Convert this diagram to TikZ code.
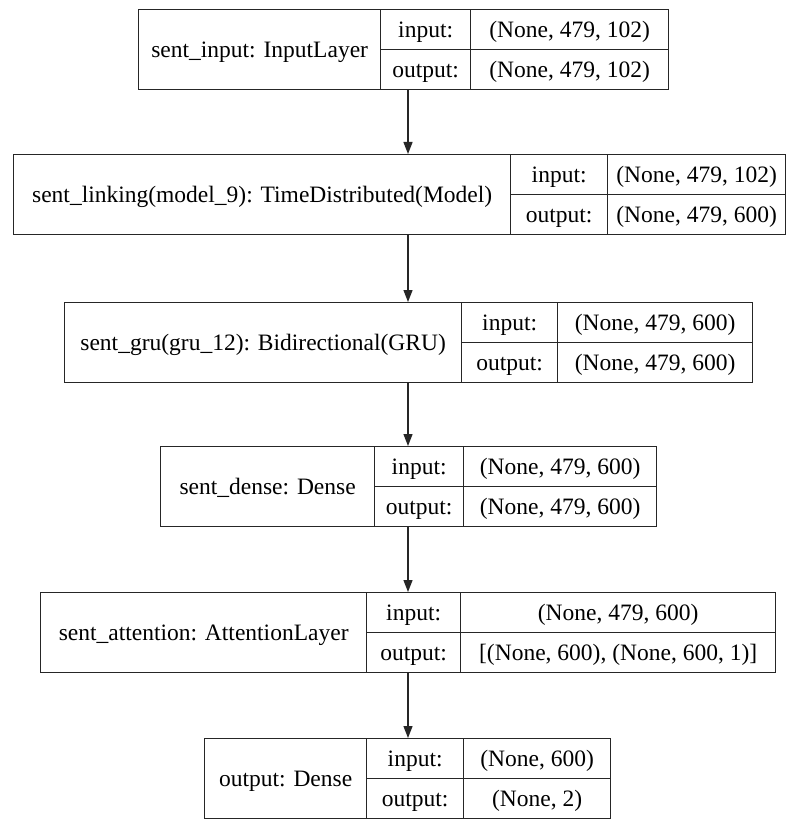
\documentclass[tikz,border=0pt]{standalone}
\usepackage{fontspec}
\setmainfont{Liberation Serif}
\newfontfamily\tms{Liberation Serif}
\usetikzlibrary{arrows.meta}
\newcommand\fs{\tms\fontsize{23.5}{27}\selectfont}
\tikzset{
  cell/.style={draw=black!85, line width=1.3pt, inner sep=0pt, anchor=north west, font=\fs, text height=17pt, text depth=2pt},
  arr/.style={draw=black!85, line width=1.3pt, -{Triangle[length=12pt,width=9pt]}}
}
\newcommand\layerbox[9]{%
  \pgfmathsetmacro\wa{#3-#2}%
  \pgfmathsetmacro\wb{#4-#3}%
  \pgfmathsetmacro\wc{#5-#4}%
  \node[cell, minimum width=\wa pt, minimum height=80pt] (L#1) at (#2,#6) {#7};
  \node[cell, minimum width=\wb pt, minimum height=40pt] (I#1) at (#3,#6) {input:};
  \node[cell, minimum width=\wb pt, minimum height=40pt] (O#1) at (#3,#6+40) {output:};
  \node[cell, minimum width=\wc pt, minimum height=40pt] (IV#1) at (#4,#6) {#8};
  \node[cell, minimum width=\wc pt, minimum height=40pt] (OV#1) at (#4,#6+40) {#9};
}
\begin{document}
\begin{tikzpicture}[x=1pt,y=-1pt]
\fill[white] (0,0) rectangle (795,821);
\useasboundingbox (0,0) rectangle (795,821);
\layerbox{1}{138}{380}{470}{668}{9}{sent\_input: InputLayer}{(None, 479, 102)}{(None, 479, 102)}
\layerbox{2}{13}{510}{607}{785}{154}{sent\_linking(model\_9): TimeDistributed(Model)}{(None, 479, 102)}{(None, 479, 600)}
\layerbox{3}{64}{461}{557}{752}{302}{sent\_gru(gru\_12): Bidirectional(GRU)}{(None, 479, 600)}{(None, 479, 600)}
\layerbox{4}{160}{374}{463}{656}{446}{sent\_dense: Dense}{(None, 479, 600)}{(None, 479, 600)}
\layerbox{5}{40}{366}{460}{775}{592}{sent\_attention: AttentionLayer}{(None, 479, 600)}{[(None, 600), (None, 600, 1)]}
\layerbox{6}{204}{366}{463}{610}{738}{output: Dense}{(None, 600)}{(None, 2)}
\coordinate (ax) at (408,0);
\draw[arr] (ax |- L1.south) -- (ax |- L2.north);
\draw[arr] (ax |- L2.south) -- (ax |- L3.north);
\draw[arr] (ax |- L3.south) -- (ax |- L4.north);
\draw[arr] (ax |- L4.south) -- (ax |- L5.north);
\draw[arr] (ax |- L5.south) -- (ax |- L6.north);
\end{tikzpicture}
\end{document}
